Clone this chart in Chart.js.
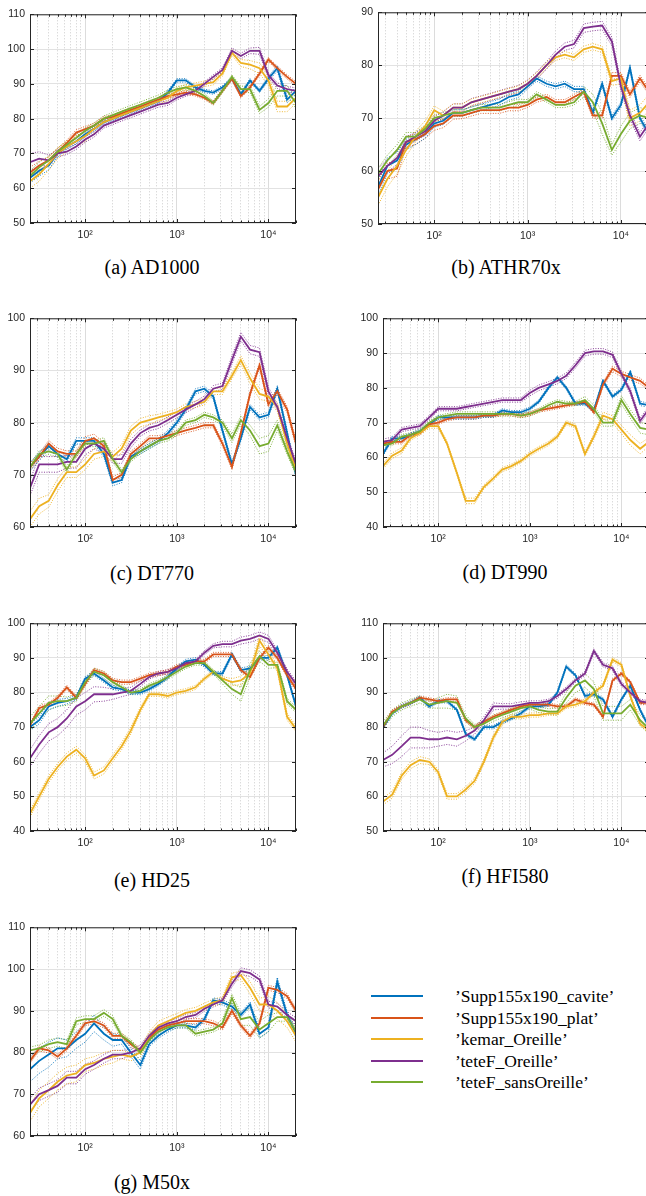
<!DOCTYPE html>
<html lang="en">
<head>
<meta charset="UTF-8">
<title>Headphone responses</title>
<script src="https://cdn.jsdelivr.net/npm/chart.js@4.4.0/dist/chart.umd.min.js"></script>
<style>
  html, body { margin: 0; padding: 0; background: #fff; }
  body { width: 646px; height: 1196px; position: relative; overflow: hidden; }
  canvas { position: absolute; }
  .title { position: absolute; transform: translate(-50%, -50%); white-space: nowrap;
           font: 20px 'Liberation Serif', 'Times New Roman', serif; color: #000; }
  .legend-row { position: absolute; left: 371px; height: 22px; white-space: nowrap;
                font: 17.5px 'Liberation Serif', 'Times New Roman', serif; color: #000; }
  .legend-row span.line { position: absolute; left: 0; top: 10px; width: 52px; height: 2px; }
  .legend-row span.txt { position: absolute; left: 84px; top: 0; line-height: 22px; }
</style>
</head>
<body>
<script>
// third-octave bands, Hz
const freqs = [25, 31.5, 40, 50, 63, 80, 100, 125, 160, 200, 250, 315, 400, 500, 630, 800,
  1000, 1250, 1600, 2000, 2500, 3150, 4000, 5000, 6300, 8000, 10000, 12500, 16000, 20000];
const seriesNames = ["’Supp155x190_cavite’", "’Supp155x190_plat’", "’kemar_Oreille’", "’teteF_Oreille’", "’teteF_sansOreille’"];
const xGridValues = [30, 40, 50, 60, 70, 80, 90, 100, 200, 300, 400, 500, 600, 700, 800, 900,
  1000, 2000, 3000, 4000, 5000, 6000, 7000, 8000, 9000, 10000, 20000];
const xTickLabels = { 100: '10²', 1000: '10³', 10000: '10⁴' };

// (a) AD1000
const ad1000Ticks = [50, 60, 70, 80, 90, 100, 110];
const ad1000Cavite  = [63,65,66.5,70,72,73.5,75.5,77,79,80,81,82,83,84,85,87.5,91,91,89,88,87.5,89,91.5,87,91,88,91.5,94.5,85.5,88];
const ad1000Plat    = [64.5,66.5,68,70.5,73,76,77,78,80,80.5,81.5,82.5,83.5,84.5,85.5,86.5,87,87.5,87,86,84.5,88,91.5,86.5,89,93,97,94.5,92,90];
const ad1000Kemar   = [62,64,67,70,72,73.5,75,77,79,80,81,82,83,84,85,86,88,89,89.5,90,90.5,93,99,96,95.5,94.5,91,83.5,83.5,86];
const ad1000Oreille = [67.5,68.5,68,70,70.5,72,74,75.5,78,79,80,81,82,83,84,84.5,86,87,88,90,92,94,99.5,98,99.5,99.5,92.5,89.5,88.5,88];
const ad1000Sans    = [63.5,66,68,70.5,72.5,74.5,76.5,78,80,81,82,83,84,85,86,87.5,88.5,89,88,86.5,84.5,88,92,88.5,88.5,82.5,84.5,88,88,84.5];
const ad1000CaviteSd  = [1.5,1.5,1.2,1,0.8,0.8,0.7,0.7,0.6,0.6,0.6,0.6,0.6,0.6,0.6,0.6,0.5,0.5,0.5,0.5,0.5,0.5,0.5,0.5,0.5,0.5,0.6,0.8,1,1];
const ad1000PlatSd    = [1.5,1.2,1,1,0.8,0.8,0.8,0.7,0.6,0.6,0.6,0.6,0.6,0.6,0.6,0.6,0.5,0.5,0.5,0.5,0.5,0.5,0.5,0.5,0.5,0.6,0.6,0.6,0.6,0.6];
const ad1000KemarSd   = [2,2,1.8,1.5,1.5,1.5,1.5,1.2,1,1,1,1,0.8,0.8,0.8,0.8,0.8,0.8,0.8,0.8,0.8,0.8,0.8,1,1.2,1.5,1.5,1.5,1.5,1.5];
const ad1000OreilleSd = [2.5,2,1.5,1,0.8,0.8,0.8,0.8,0.7,0.7,0.7,0.7,0.7,0.7,0.7,0.7,0.6,0.6,0.6,0.6,0.6,0.6,0.8,0.8,0.8,1,0.8,0.8,0.8,0.8];
const ad1000SansSd    = [1.5,1.5,1.2,1,1,1,0.8,0.8,0.8,0.8,0.8,0.8,0.8,0.8,0.8,0.8,0.7,0.7,0.7,0.7,0.6,0.6,0.6,0.8,1,1,1.2,1.5,1.5,1.5];

// (b) ATHR70x
const athrTicks = [50, 60, 70, 80, 90];
const athrCavite  = [57,61,62,65,66,67,69,69.5,71,71,71.5,72,72.5,73,74,74.5,76,77.5,76.5,76,76.5,75.5,75.5,71,76.5,70,72.5,79.5,70,67];
const athrPlat    = [56.5,60,60.5,65.5,66,67,68.5,69,70.5,70.5,71,71.5,71.5,71.5,72,72,72.5,73.5,74,73,73,74,75,70.5,70.5,78,78,74.5,77.5,75];
const athrKemar   = [55,58.5,61,64,66.5,68.5,71.5,70.5,72,72,73,73.5,74,74.5,75,75.5,76.5,78,80,81.5,82,81.5,83,83.5,83,77,77.5,70,71,73];
const athrOreille = [59,61,62.5,65.5,66.5,67.5,69.5,70.5,72,72,73,73.5,74,74.5,75,75.5,76.5,78,80,82,83.5,84,87,87.3,87.5,84.5,76,70.5,66.5,69];
const athrSans    = [59.5,62,64,66.5,66.5,68,70,70.5,71,71,71.5,72,72,72,72.5,73,73,74.5,73.5,72.5,72.5,73,75,73,69,64,67,69.5,70.5,70];
const athrCaviteSd  = [1.5,1.5,1.5,1,1,0.8,0.7,0.7,0.6,0.6,0.6,0.6,0.6,0.6,0.6,0.6,0.5,0.5,0.5,0.5,0.5,0.5,0.5,0.5,0.5,0.5,0.5,0.5,0.6,0.6];
const athrPlatSd    = [1.5,1.5,1.5,1,1,0.8,0.8,0.8,0.7,0.6,0.6,0.6,0.6,0.6,0.6,0.6,0.5,0.5,0.5,0.5,0.5,0.5,0.5,0.5,0.5,0.6,0.6,0.6,0.6,0.6];
const athrKemarSd   = [1.5,1.5,1.5,1.2,1,1,0.8,0.8,0.7,0.7,0.6,0.6,0.6,0.6,0.6,0.6,0.6,0.6,0.6,0.6,0.6,0.6,0.6,0.6,0.6,0.8,1,1.5,1.5,1.5];
const athrOreilleSd = [1.5,1.2,1.2,1,0.8,0.8,0.8,0.7,0.7,0.7,0.7,0.7,0.7,0.7,0.7,0.7,0.7,0.7,0.7,0.7,0.7,0.7,0.8,0.8,0.8,0.8,0.8,0.8,0.8,0.8];
const athrSansSd    = [1,1,1,0.8,0.8,0.7,0.6,0.6,0.6,0.6,0.6,0.6,0.6,0.6,0.6,0.6,0.5,0.5,0.5,0.5,0.5,0.5,1,1.5,2,1,1.5,1.5,1.5,1.5];

// (c) DT770
const dt770Ticks = [60, 70, 80, 90, 100];
const dt770Cavite  = [71.5,73.5,75.5,74,73,76.5,76.5,76.5,74,68.5,69,73.5,74.5,75.5,76.5,78,80,82.5,86,86.5,85,78.5,72,77,83,81,81.5,86.5,78,70];
const dt770Plat    = [71.5,73.5,76,74.5,74,74,76.5,77,75.5,69,70,74,75.5,77,77,77.5,78,78.5,79,79.5,79.5,76,71.5,78,85.5,91,83.5,86,82.5,76];
const dt770Kemar   = [61.5,64,65,68,70.5,70.5,72,74,74.5,73.5,75,78.5,80,80.5,81,81.5,82,83,83.5,84,86,86,89,92,88.5,85.5,85,83,76,71];
const dt770Oreille = [67.5,72,72,72,72.5,72.5,75,76,75,73,73,76,78,79,79.5,80.5,81.5,82.5,83.5,84.5,86.5,87,92,96.5,94,93.5,86,83,77,72];
const dt770Sans    = [71.5,74,74.5,74,71,74,76,76,76.5,73,70.5,73,74.5,75.5,76.5,77,78,80,80.5,81.5,81,80,77,80.5,78.5,75.5,76,79.5,74.5,70.5];
const dt770CaviteSd  = [0.8,0.8,0.6,0.6,0.6,0.6,0.6,0.6,0.6,0.6,0.5,0.5,0.5,0.5,0.5,0.5,0.5,0.5,0.5,0.5,0.5,0.5,0.5,0.5,0.5,0.5,0.5,0.6,0.6,0.6];
const dt770PlatSd    = [0.6,0.6,0.6,0.6,0.6,0.6,0.8,0.8,0.6,0.6,0.5,0.5,0.5,0.5,0.5,0.5,0.5,0.5,0.5,0.5,0.5,0.5,0.5,0.5,0.5,0.5,0.5,0.6,0.6,0.6];
const dt770KemarSd   = [1.5,1.5,1.2,1.2,1,1,1,1,1,0.8,0.8,0.8,0.8,0.8,0.6,0.6,0.6,0.6,0.6,0.6,0.6,0.6,0.6,0.8,1,1,1,0.8,0.6,0.6];
const dt770OreilleSd = [1.5,1.5,1.5,1.5,1.2,1.2,1.2,1,1,0.8,0.8,0.8,0.6,0.6,0.6,0.6,0.6,0.6,0.6,0.6,0.6,0.6,0.8,0.8,0.8,0.8,0.8,0.6,0.6,0.6];
const dt770SansSd    = [0.6,0.6,0.6,0.6,0.6,0.6,0.6,0.6,0.6,0.6,0.5,0.5,0.5,0.5,0.5,0.5,0.5,0.5,0.5,0.5,0.5,0.5,0.8,0.8,1,1.5,1.5,1,0.6,0.6];

// (d) DT990
const dt990Ticks = [40, 50, 60, 70, 80, 90, 100];
const dt990Cavite  = [61,65.5,65.5,66.5,67.5,69.5,71.5,71.5,71.5,71.5,71.5,72,72,73.5,73,73,74,76,80,83,80,75.5,75.5,73.5,82,77.5,79.5,84.5,75.5,75];
const dt990Plat    = [64,64.5,64.5,66.5,67,69.5,70,71,71.5,71.5,71.5,72,72,72.5,72.5,72,72.5,73.5,74,74.5,75,75.5,76,73,81,85.5,84,83,82,80];
const dt990Kemar   = [57.5,60.5,62,65.5,67,69,69,64,55.5,47.5,47.5,51.5,54,56.5,57.5,59,61,62.5,64,66,70,69,61,66,72,71,68,65,62.5,64.5];
const dt990Oreille = [64.5,65,68,68.5,69,71.5,74,74,74,74.5,75,75.5,76,76.5,76.5,76.5,78.5,80,81,82,83.5,86.5,90,90.5,90.5,89.5,84,79,70.5,74];
const dt990Sans    = [63.5,64,66,66.5,67.5,70,71.5,72,72.5,72.5,72.5,72.5,72.5,72.5,72.5,72,72.5,73.5,75,76,75.5,75.5,76.5,74,70,70,76.5,72.5,68.5,68];
const dt990CaviteSd  = [0.6,0.6,0.6,0.5,0.5,0.5,0.5,0.5,0.5,0.5,0.5,0.5,0.5,0.5,0.5,0.5,0.5,0.5,0.5,0.5,0.5,0.5,0.5,0.5,0.5,0.5,0.5,0.6,0.6,0.6];
const dt990PlatSd    = [0.6,0.6,0.6,0.5,0.5,0.5,0.5,0.5,0.5,0.5,0.5,0.5,0.5,0.5,0.5,0.5,0.5,0.5,0.5,0.5,0.5,0.5,0.5,0.5,0.6,0.8,0.8,0.8,0.8,0.6];
const dt990KemarSd   = [0.8,0.8,0.8,0.6,0.6,0.6,0.6,0.6,0.6,0.8,0.8,0.6,0.6,0.6,0.6,0.6,0.6,0.6,0.6,0.6,0.6,0.6,0.6,0.8,1,1,1.2,1.5,1.5,1.2];
const dt990OreilleSd = [0.8,0.8,0.6,0.6,0.6,0.6,0.6,0.6,0.6,0.6,0.6,0.6,0.6,0.6,0.6,0.6,0.8,0.8,0.8,0.8,0.8,0.8,0.8,0.8,0.8,0.8,0.8,0.8,0.8,0.8];
const dt990SansSd    = [0.6,0.6,0.6,0.6,0.6,0.6,0.6,0.6,0.6,0.6,0.6,0.6,0.6,0.6,0.6,0.6,0.6,0.6,0.6,0.6,0.6,0.6,1,1,1,1,1.2,1.2,1.5,1.5];

// (e) HD25
const hd25Ticks = [40, 50, 60, 70, 80, 90, 100];
const hd25Cavite  = [70,72,76,77,77.5,78.5,84,85.5,83.5,81.5,81,80,80,81,82.5,84.5,87,89,89.5,88,85.5,85.5,91,86.5,87,90,90,93,85,76];
const hd25Plat    = [70.5,75.5,76.5,78.5,81.5,78.5,82.5,86.5,85.5,83.5,83,83,84,85,85.5,86,87.5,88,89,89,91,91,91,86.5,84.5,90,93,90,85,81];
const hd25Kemar   = [45,50,55,58.5,61.5,63.5,61,56,57.5,61,64.5,69,75,79.5,79.5,79,80,80.5,81.5,84,86,84,83,83.5,85.5,95,91,87,73,69.5];
const hd25Oreille = [61,65,68.5,70,72.5,76,77.5,79.5,79.5,79.5,80,80.5,82.5,84.5,85.5,86,87,88.5,89,91.5,93.5,94,94,95,95.5,96.5,95.5,91.5,86,82.5];
const hd25Sans    = [71,74,77,77.5,77.5,78.5,83,86,85,83,81.5,80,80.5,82,83,84.5,86,87.5,88.5,88.5,86,83.5,81,79.5,86.5,90.5,88,88,77.5,75];
const hd25CaviteSd  = [1,1,1,1,0.8,0.6,0.6,0.6,0.6,0.6,0.6,0.6,0.6,0.6,0.6,0.6,0.6,0.6,0.6,0.6,0.6,0.6,0.6,0.6,0.6,0.6,0.6,0.6,0.6,0.6];
const hd25PlatSd    = [0.6,0.6,0.6,0.6,0.6,0.6,0.6,0.6,0.6,0.6,0.6,0.6,0.6,0.6,0.6,0.6,0.6,0.6,0.6,0.6,0.6,0.6,0.6,0.6,0.6,0.6,0.6,0.6,0.6,0.6];
const hd25KemarSd   = [1,1,1,1,1,1,1,1,1,1,1,1,0.8,0.6,0.6,0.6,0.6,0.6,0.6,0.6,0.6,0.6,1,1.2,1.5,1.5,1,1,1,0.8];
const hd25OreilleSd = [2.5,2.5,2.5,2.5,2.5,2.5,2.5,2.2,2,1.5,1.2,1,0.8,0.6,0.6,0.6,0.6,0.6,0.6,0.6,0.6,0.8,0.8,1,1,1,1,0.8,0.8,0.8];
const hd25SansSd    = [2,2,2,1.5,1.2,1,1,1,1,0.8,0.6,0.6,0.6,0.6,0.6,0.6,0.6,0.6,0.6,0.6,0.6,1,1.5,2,2,1.5,1,0.8,0.8,0.8];

// (f) HFI580
const hfi580Ticks = [50, 60, 70, 80, 90, 100, 110];
const hfi580Cavite  = [80,84,86,87,88.5,86,87.5,87.5,85,78,76.5,80,80,81.5,82.5,84,86,86,86.5,90,97.5,95,89,89.5,88,83,88,92,85,80];
const hfi580Plat    = [80,84.5,86,87,88.5,88,87.5,88,88,82,80,81.5,83,84,85,86,86.5,86.5,86.5,86,86,88,87,86.5,83,93.5,95.5,93,87,87];
const hfi580Kemar   = [58.5,60.5,66,69,70.5,70,67,60,60,62,64.5,70,77,81.5,83,83,83.5,83.5,84,84,86,86.5,87.5,90,92,99.5,98,89,81,79];
const hfi580Oreille = [70.5,72,74.5,77,77,76.5,76.5,77,76.5,77.5,79,82,86,86,86,86.5,87,87,87.5,89,91,93.5,95.5,102,98,97,92.5,90,87.5,87];
const hfi580Sans    = [80.5,84,86,87,88,86.5,87,87.5,87,82.5,80,81,82.5,83.5,84.5,85.5,86,85,84.5,84.5,88.5,92,93.5,91,84,84,84,86.5,82,79.5];
const hfi580CaviteSd  = [0.5,0.5,0.5,0.5,0.5,0.5,0.5,0.5,0.5,0.5,0.5,0.5,0.5,0.5,0.5,0.5,0.5,0.5,0.5,0.5,0.5,0.5,0.5,0.5,0.5,0.5,0.5,0.5,0.5,0.5];
const hfi580PlatSd    = [0.5,0.5,0.5,0.5,0.5,0.5,0.5,0.5,0.5,0.5,0.5,0.5,0.5,0.5,0.5,0.5,0.5,0.5,0.5,0.5,0.5,0.5,0.5,0.5,0.5,0.5,0.5,0.5,0.5,0.5];
const hfi580KemarSd   = [1,1,1,1,1,0.8,0.8,0.8,0.8,0.8,0.8,0.8,0.8,0.8,0.6,0.6,0.6,0.6,0.6,0.6,0.6,0.6,0.6,0.6,0.6,0.6,0.6,0.6,0.6,0.6];
const hfi580OreilleSd = [2,2.5,3,3,3,2.5,2,2,2,1.5,1,1,1,0.8,0.8,0.8,0.6,0.6,0.6,0.6,0.6,0.6,0.6,0.6,0.6,0.6,0.6,0.6,0.6,0.6];
const hfi580SansSd    = [1,1,1,1,1,1,1.5,2,2,1,0.8,0.8,0.8,0.8,0.8,0.8,0.8,0.8,0.8,1,1.5,2,2,2,2,2,2,1.5,1.5,1.5];

// (g) M50x
const m50xTicks = [60, 70, 80, 90, 100, 110];
const m50xCavite  = [76,78,79.5,81,81,83,84.5,87,84.5,83,83,80,77,82,84,85.5,86.5,86.5,86,88,92.5,92,91,89,91.5,84.5,86,97,89,84.5];
const m50xPlat    = [78,81,80.5,79,81,84,87,87.5,86.5,84,84,82,80.5,83.5,85.5,86.5,87,87.5,87.5,87.5,87,86,90,86.5,84,87,95.5,95,93.5,90];
const m50xKemar   = [65.5,69,71,73,74.5,75,77,77.5,78.5,79,79.5,79,80,84,86.5,87.5,88.5,89.5,90,91,92,92.5,98,98.5,95.5,91.5,91.5,90,87.5,84];
const m50xOreille = [67.5,70,71,72,74,74,76,77,78.5,79.5,79.5,80,81,84,86,87,87.5,88.5,89,90.5,91.5,92.5,96.5,99.5,99,97.5,91.5,91,89,87.5];
const m50xSans    = [80.5,81,82,82.5,82,87.5,88,88,89.5,88,84,82.5,80,83,85,86,86.5,86.5,84.5,85,85.5,87,93,88,88.5,85.5,87,88.5,88.5,85];
const m50xCaviteSd  = [3,3,3,2.5,2,2,2,2,1.5,1.5,1,1,1,0.6,0.6,0.6,0.6,0.6,0.6,0.6,0.6,0.6,0.6,0.6,0.6,1,1,1,0.8,0.8];
const m50xPlatSd    = [0.6,0.6,0.6,0.6,0.6,0.6,0.6,0.6,0.6,0.6,0.6,0.6,0.6,0.6,0.6,0.6,0.6,0.6,0.6,0.6,0.6,0.6,0.6,0.6,0.6,0.6,0.6,0.6,0.6,0.6];
const m50xKemarSd   = [2,2,2,2,2,2,1.5,1.5,1.5,1.5,1,1,1,1,1,1,0.8,0.8,0.8,0.8,0.8,0.8,1,1,1.5,1.5,2,2,1.5,1.5];
const m50xOreilleSd = [1.5,1.5,1.5,1.5,1.5,1.5,1.2,1,1,1,1,0.8,0.8,0.6,0.6,0.6,0.6,0.6,0.6,0.6,0.6,0.6,0.8,0.8,0.8,0.8,0.8,0.8,0.8,0.8];
const m50xSansSd    = [0.8,0.8,1,1,1,0.8,0.8,0.8,0.8,0.8,0.6,0.6,0.6,0.6,0.6,0.6,0.6,0.6,0.6,0.6,0.6,1,1,1.5,2,2,2,1,1,1];

const colors = ['#0072BD', '#D95319', '#EDB120', '#7E2F8E', '#77AC30'];
const faded  = ['rgba(0,114,189,0.9)', 'rgba(217,83,25,0.9)', 'rgba(237,177,32,0.9)', 'rgba(126,47,142,0.9)', 'rgba(119,172,48,0.9)'];

const panels = [
  { title: '(a) AD1000',  ticks: ad1000Ticks, box: [30, 13, 296, 223],   label: [152, 267],
    series: [ad1000Cavite, ad1000Plat, ad1000Kemar, ad1000Oreille, ad1000Sans],
    spread: [ad1000CaviteSd, ad1000PlatSd, ad1000KemarSd, ad1000OreilleSd, ad1000SansSd] },
  { title: '(b) ATHR70x', ticks: athrTicks, box: [378, 11, 649, 224],    label: [506, 267],
    series: [athrCavite, athrPlat, athrKemar, athrOreille, athrSans],
    spread: [athrCaviteSd, athrPlatSd, athrKemarSd, athrOreilleSd, athrSansSd] },
  { title: '(c) DT770',   ticks: dt770Ticks, box: [30, 317, 296, 527],   label: [152, 573],
    series: [dt770Cavite, dt770Plat, dt770Kemar, dt770Oreille, dt770Sans],
    spread: [dt770CaviteSd, dt770PlatSd, dt770KemarSd, dt770OreilleSd, dt770SansSd] },
  { title: '(d) DT990',   ticks: dt990Ticks, box: [383, 317, 649, 527],  label: [505, 572],
    series: [dt990Cavite, dt990Plat, dt990Kemar, dt990Oreille, dt990Sans],
    spread: [dt990CaviteSd, dt990PlatSd, dt990KemarSd, dt990OreilleSd, dt990SansSd] },
  { title: '(e) HD25',    ticks: hd25Ticks, box: [30, 622, 296, 831],    label: [152, 880],
    series: [hd25Cavite, hd25Plat, hd25Kemar, hd25Oreille, hd25Sans],
    spread: [hd25CaviteSd, hd25PlatSd, hd25KemarSd, hd25OreilleSd, hd25SansSd] },
  { title: '(f) HFI580',  ticks: hfi580Ticks, box: [383, 622, 649, 831], label: [505, 876],
    series: [hfi580Cavite, hfi580Plat, hfi580Kemar, hfi580Oreille, hfi580Sans],
    spread: [hfi580CaviteSd, hfi580PlatSd, hfi580KemarSd, hfi580OreilleSd, hfi580SansSd] },
  { title: '(g) M50x',    ticks: m50xTicks, box: [30, 926, 296, 1136],   label: [152, 1182],
    series: [m50xCavite, m50xPlat, m50xKemar, m50xOreille, m50xSans],
    spread: [m50xCaviteSd, m50xPlatSd, m50xKemarSd, m50xOreilleSd, m50xSansSd] }
];

Chart.defaults.font.family = "'Liberation Sans', Arial, Helvetica, sans-serif";
Chart.defaults.color = '#262626';

// matlab style box with inward ticks on all four sides
const boxPlugin = {
  id: 'box',
  afterDraw(chart) {
    const { ctx, chartArea: a, scales: { x, y } } = chart;
    ctx.save();
    ctx.strokeStyle = '#262626';
    ctx.lineWidth = 1;
    ctx.strokeRect(a.left + 0.5, a.top + 0.5, a.right - a.left - 1, a.bottom - a.top - 1);
    ctx.beginPath();
    x.ticks.forEach(t => {
      const px = Math.round(x.getPixelForValue(t.value)) + 0.5;
      const len = xTickLabels[t.value] ? 4 : 2.5;
      ctx.moveTo(px, a.bottom); ctx.lineTo(px, a.bottom - len);
      ctx.moveTo(px, a.top); ctx.lineTo(px, a.top + len);
    });
    y.ticks.forEach(t => {
      const py = Math.round(y.getPixelForValue(t.value)) + 0.5;
      ctx.moveTo(a.left, py); ctx.lineTo(a.left + 4, py);
      ctx.moveTo(a.right, py); ctx.lineTo(a.right - 4, py);
    });
    ctx.stroke();
    ctx.restore();
  }
};

panels.forEach(p => {
  const [L, T, R, B] = p.box;
  const cv = document.createElement('canvas');
  cv.width = R - L + 36;
  cv.height = B - T + 30;
  cv.style.left = (L - 30) + 'px';
  cv.style.top = (T - 10) + 'px';
  document.body.appendChild(cv);

  const datasets = [];
  p.series.forEach((vals, s) => {
    const sd = p.spread[s];
    [1, -1].forEach(sign => datasets.push({
      data: freqs.map((f, k) => ({ x: f, y: vals[k] + sign * sd[k] })),
      borderColor: faded[s], borderWidth: 1, borderDash: [1, 1.5],
      pointRadius: 0, order: 50
    }));
  });
  p.series.forEach((vals, s) => datasets.push({
    label: seriesNames[s],
    data: freqs.map((f, k) => ({ x: f, y: vals[k] })),
    borderColor: colors[s], borderWidth: 1.8, pointRadius: 0, order: 10 - s
  }));

  new Chart(cv, {
    type: 'line',
    data: { datasets },
    options: {
      responsive: false,
      animation: false,
      devicePixelRatio: 1,
      layout: { padding: { top: 10, right: 6, left: 0, bottom: 0 } },
      plugins: { legend: { display: false }, tooltip: { enabled: false } },
      scales: {
        x: {
          type: 'logarithmic', min: 25, max: 20000,
          afterBuildTicks: s => { s.ticks = xGridValues.map(v => ({ value: v })); },
          afterFit: s => { s.height = 20; },
          ticks: { autoSkip: false, maxRotation: 0, padding: 6, font: { size: 10.5 },
                   callback: v => xTickLabels[v] || '' },
          grid: { drawTicks: false, lineWidth: 1,
                  color: c => !c.tick || c.tick.value === 20000 ? 'rgba(0,0,0,0)' :
                              (xTickLabels[c.tick.value] ? '#dcdcdc' : '#cccccc') },
          border: { display: false, dash: c => (c.tick && !xTickLabels[c.tick.value]) ? [1, 2] : [] }
        },
        y: {
          min: p.ticks[0], max: p.ticks[p.ticks.length - 1],
          afterBuildTicks: s => { s.ticks = p.ticks.map(v => ({ value: v })); },
          afterFit: s => { s.width = 30; },
          ticks: { padding: 5, font: { size: 10.5 } },
          grid: { drawTicks: false, color: '#e2e2e2', lineWidth: 1 },
          border: { display: false }
        }
      }
    },
    plugins: [boxPlugin]
  });

  const t = document.createElement('div');
  t.className = 'title';
  t.textContent = p.title;
  t.style.left = p.label[0] + 'px';
  t.style.top = p.label[1] + 'px';
  document.body.appendChild(t);
});

// legend
const legendRows = [985, 1006.5, 1028, 1049.5, 1071];
seriesNames.forEach((name, s) => {
  const row = document.createElement('div');
  row.className = 'legend-row';
  row.style.top = legendRows[s] + 'px';
  row.innerHTML = '<span class="line" style="background:' + colors[s] + '"></span><span class="txt"></span>';
  row.querySelector('.txt').textContent = name;
  document.body.appendChild(row);
});
</script>
</body>
</html>
